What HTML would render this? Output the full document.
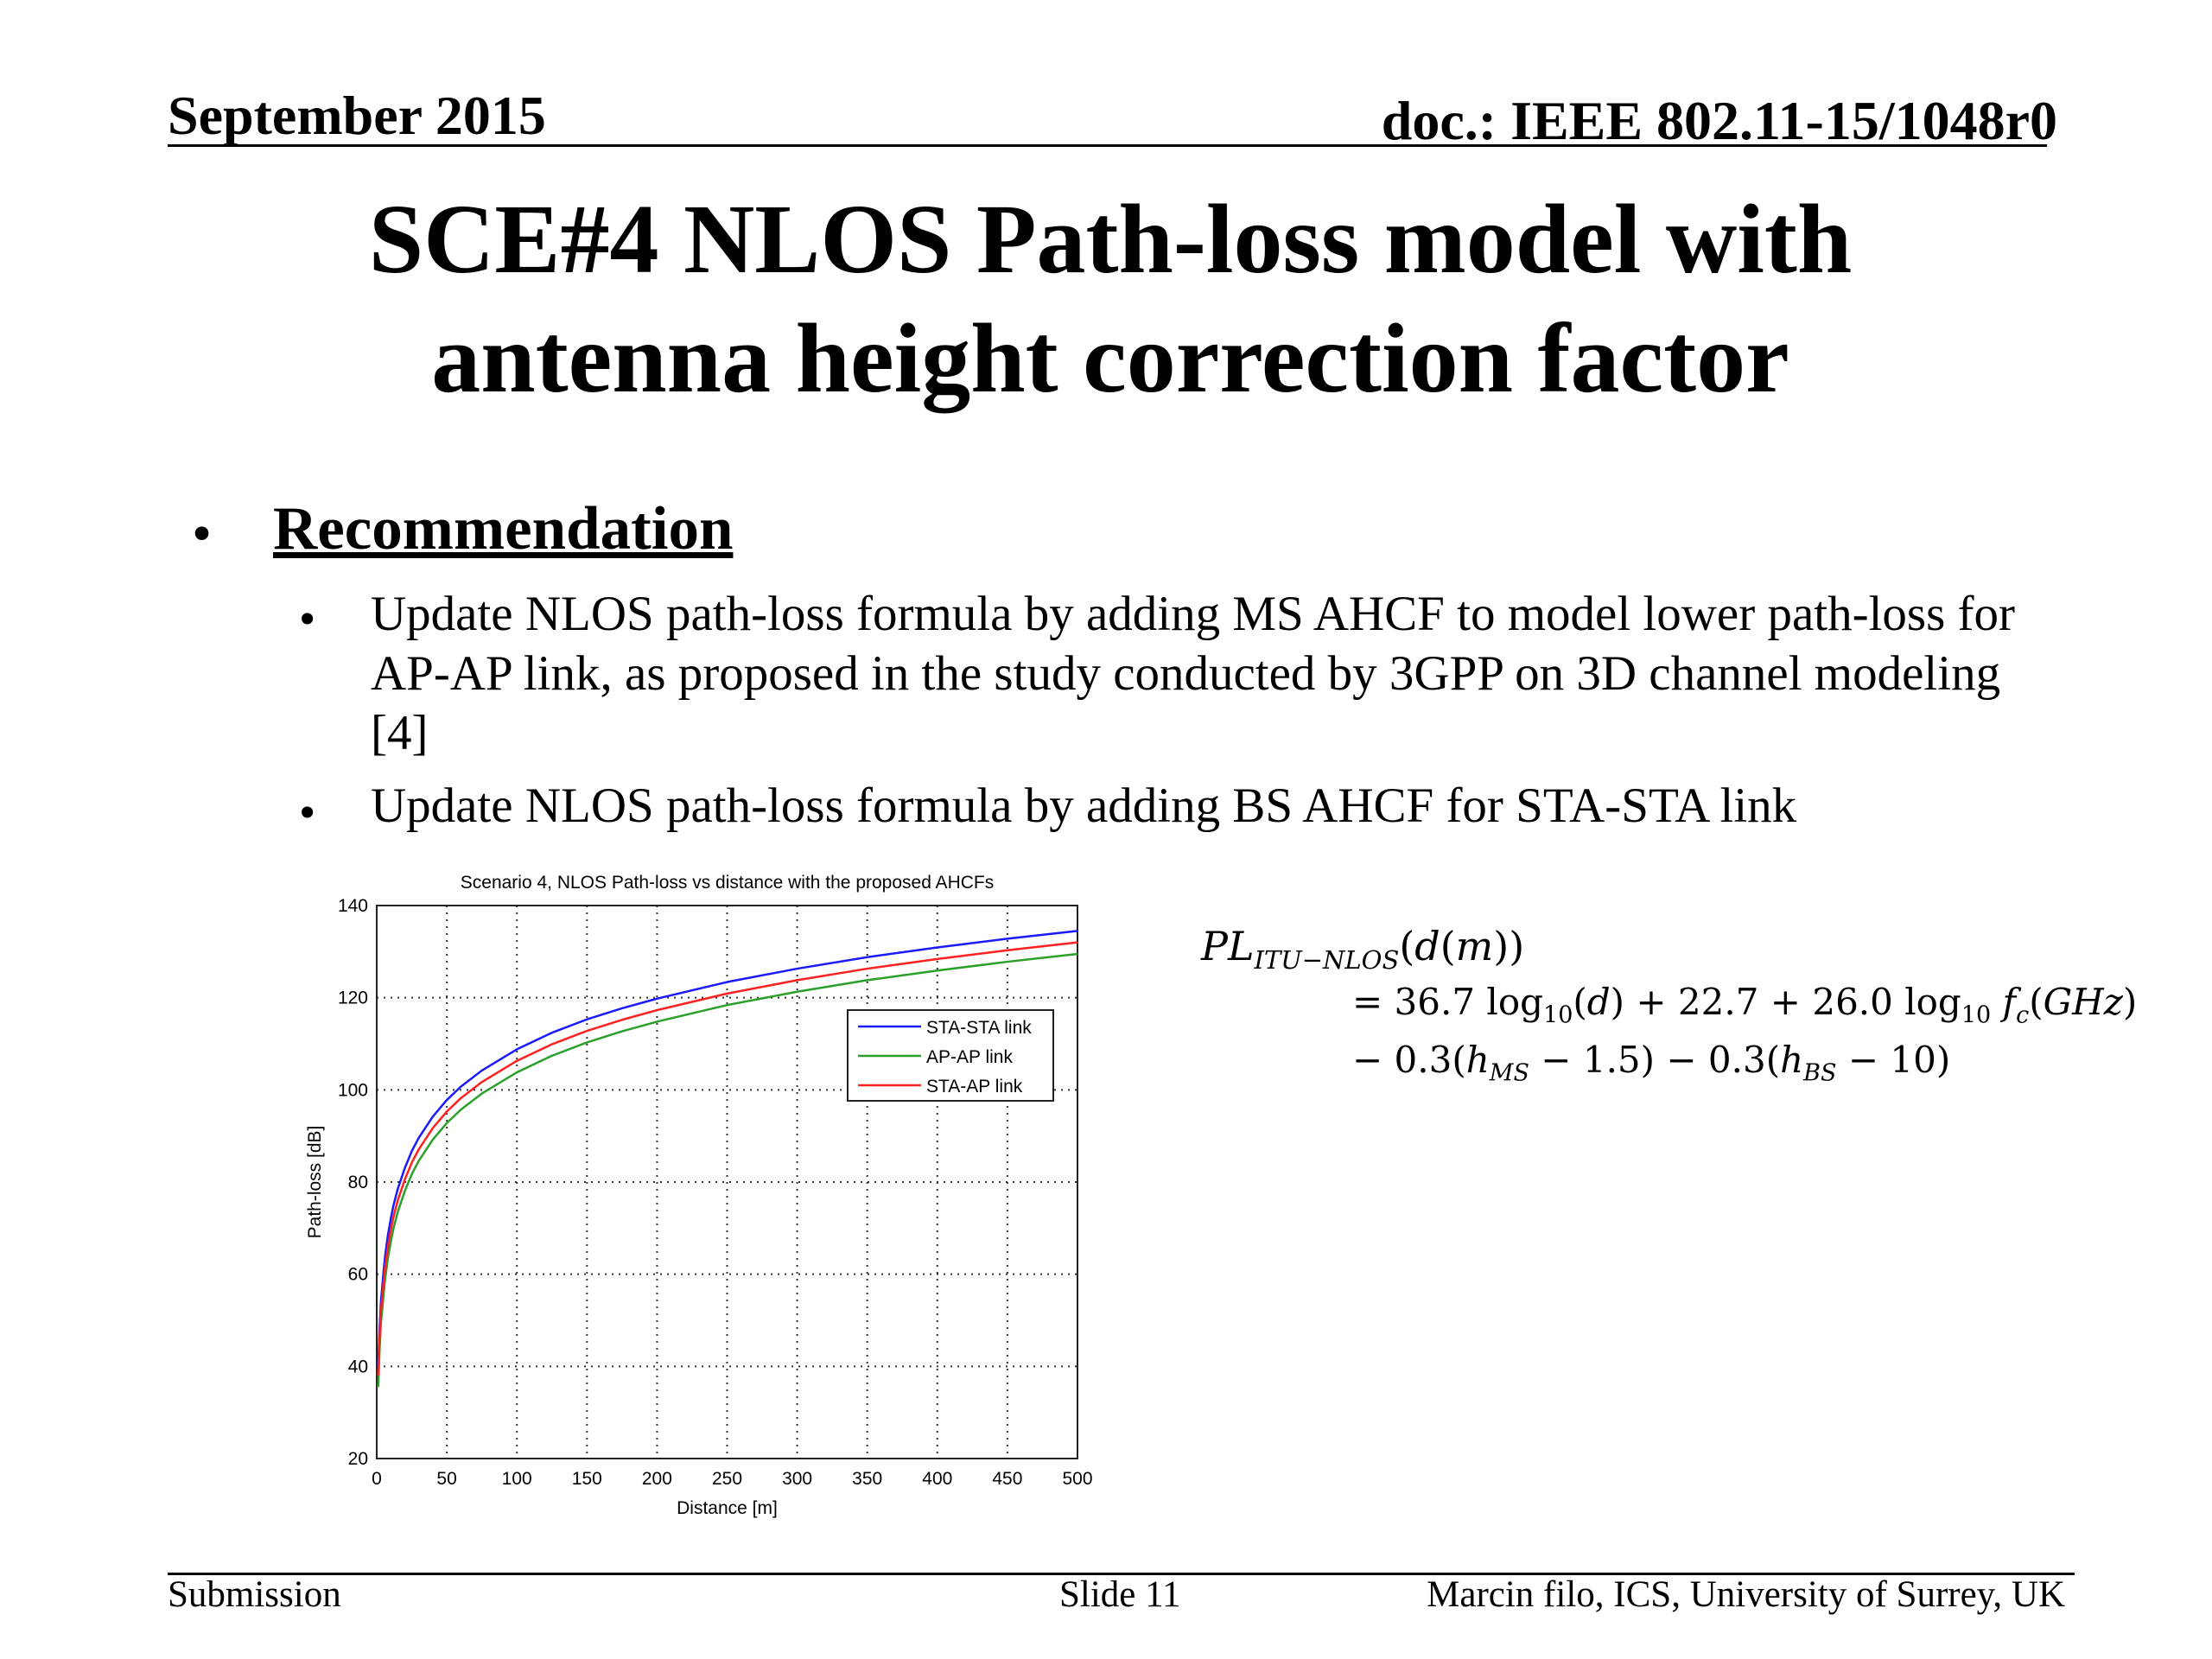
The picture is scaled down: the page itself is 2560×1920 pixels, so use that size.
<!DOCTYPE html>
<html><head><meta charset="utf-8"><style>
body{margin:0;width:2560px;height:1920px;background:#fff;position:relative;overflow:hidden;font-family:"Liberation Serif",serif;color:#000}
.a{position:absolute;white-space:nowrap}
</style></head><body>
<div class="a" style="left:194px;top:97px;font-size:64px;font-weight:bold">September 2015</div>
<div class="a" style="right:179px;top:103px;font-size:64px;font-weight:bold">doc.: IEEE 802.11-15/1048r0</div>
<div class="a" style="left:194px;top:167px;width:2175px;height:3px;background:#000"></div>
<div class="a" style="left:0;width:2570px;top:208px;font-size:114px;font-weight:bold;text-align:center;line-height:138px">SCE#4 NLOS Path-loss model with<br>antenna height correction factor</div>
<div class="a" style="left:222px;top:580px;font-size:66px">•</div>
<div class="a" style="left:316px;top:572px;font-size:71px;font-weight:bold;text-decoration:underline">Recommendation</div>
<div class="a" style="left:346px;top:684px;font-size:55px">•</div>
<div class="a" style="left:429px;top:676px;font-size:57px;line-height:69px">Update NLOS path-loss formula by adding MS AHCF to model lower path-loss for<br>AP-AP link, as proposed in the study conducted by 3GPP on 3D channel modeling<br>[4]</div>
<div class="a" style="left:346px;top:908px;font-size:55px">•</div>
<div class="a" style="left:429px;top:900px;font-size:57px">Update NLOS path-loss formula by adding BS AHCF for STA-STA link</div>
<div class="a" style="left:1390px;top:1068px;font-size:46px;font-family:'DejaVu Serif',serif"><i>PL</i><sub style="font-size:29px"><i>ITU−NLOS</i></sub>(<i>d</i>(<i>m</i>))</div>
<div class="a" style="left:1565px;top:1135px;font-size:42px;font-family:'DejaVu Serif',serif">= 36.7 log<sub style="font-size:27px">10</sub>(<i>d</i>) + 22.7 + 26.0 log<sub style="font-size:27px">10</sub> <i>f</i><sub style="font-size:27px"><i>c</i></sub>(<i>GHz</i>)</div>
<div class="a" style="left:1565px;top:1202px;font-size:42px;font-family:'DejaVu Serif',serif">− 0.3(<i>h</i><sub style="font-size:27px"><i>MS</i></sub> − 1.5) − 0.3(<i>h</i><sub style="font-size:27px"><i>BS</i></sub> − 10)</div>
<svg class="a" style="left:0;top:0" width="2560" height="1920" id="chart"></svg>
<div class="a" style="left:194px;top:1820px;width:2207px;height:3px;background:#000"></div>
<div class="a" style="left:194px;top:1821px;font-size:43px">Submission</div>
<div class="a" style="left:1226px;top:1821px;font-size:43px">Slide 11</div>
<div class="a" style="right:170px;top:1821px;font-size:43px">Marcin filo, ICS, University of Surrey, UK</div>
<script>
const distances=[1,2,3,4,5,6,8,10,12,15,20,25,30,40,50,60,75,100,125,150,175,200,250,300,350,400,450,500];
const staSta=[40,48,54,57.5,61,64,68.5,72,75,78.5,83,86.7,89.6,94.2,97.8,100.7,104.2,108.8,112.4,115.3,117.7,119.8,123.4,126.3,128.8,130.9,132.8,134.5];
const apAp=[35.5,43.5,49.5,52.5,56,59,63.5,67,70,73.5,78,81.7,84.6,89.2,92.8,95.7,99.2,103.8,107.4,110.3,112.7,114.8,118.4,121.3,123.8,125.9,127.8,129.5];
const staAp=[38,46,52,55,58.5,61.5,66,69.5,72.5,76,80.5,84.2,87.1,91.7,95.3,98.2,101.7,106.3,109.9,112.8,115.2,117.3,120.9,123.8,126.3,128.4,130.3,132];
const xTicks=[0,50,100,150,200,250,300,350,400,450,500];
const yTicks=[20,40,60,80,100,120,140];
const L=436,R=1247,T=1048,B=1688;
const sx=v=>L+(v-0)/(500-0)*(R-L);
const sy=v=>B-(v-20)/(140-20)*(B-T);
const svg=document.getElementById('chart');const NS='http://www.w3.org/2000/svg';
function mk(t,a,p){const e=document.createElementNS(NS,t);for(const k in a)e.setAttribute(k,a[k]);(p||svg).appendChild(e);return e;}
const ff='"Liberation Sans",sans-serif';
xTicks.forEach(v=>{const g=mk('line',{x1:sx(v),x2:sx(v),y1:T,y2:B,stroke:'#333','stroke-width':2,'stroke-dasharray':'2 6'});


const t=mk('text',{x:sx(v),y:B+30,'font-size':21,'font-family':ff,'text-anchor':'middle'});t.textContent=v;

});
yTicks.forEach(v=>{const g=mk('line',{x1:L,x2:R,y1:sy(v),y2:sy(v),stroke:'#333','stroke-width':2,'stroke-dasharray':'2 6'});


const t=mk('text',{x:L-10,y:sy(v)+7,'font-size':21,'font-family':ff,'text-anchor':'end'});t.textContent=v;

});
const fr=mk('rect',{x:L,y:T,width:R-L,height:B-T,fill:'none',stroke:'#222','stroke-width':2});


const series=[[staSta,'#1a1aff','sta-sta-line'],[apAp,'#2aa02a','ap-ap-line'],[staAp,'#ff2020','sta-ap-line']];
series.forEach(s=>{const p=mk('polyline',{points:distances.map((d,i)=>sx(d)+','+sy(s[0][i])).join(' '),fill:'none',stroke:s[1],'stroke-width':2.5,'stroke-linejoin':'round'});

});
const ct=mk('text',{x:(L+R)/2,y:T-20,'font-size':21,'font-family':ff,'text-anchor':'middle'});ct.textContent='Scenario 4, NLOS Path-loss vs distance with the proposed AHCFs';


const xl=mk('text',{x:(L+R)/2,y:B+64,'font-size':21,'font-family':ff,'text-anchor':'middle'});xl.textContent='Distance [m]';


const yl=mk('text',{x:0,y:0,'font-size':21,'font-family':ff,'text-anchor':'middle',transform:`translate(371,${(T+B)/2}) rotate(-90)`});yl.textContent='Path-loss [dB]';


const lg=mk('rect',{x:981,y:1169,width:238,height:105,fill:'#fff',stroke:'#222','stroke-width':2});


const names=['STA-STA link','AP-AP link','STA-AP link'];
series.forEach((s,i)=>{const y=1188+i*34;const l=mk('line',{x1:993,x2:1066,y1:y,y2:y,stroke:s[1],'stroke-width':2.5});


const t=mk('text',{x:1072,y:y+8,'font-size':21,'font-family':ff});t.textContent=names[i];

});
</script>
</body></html>
